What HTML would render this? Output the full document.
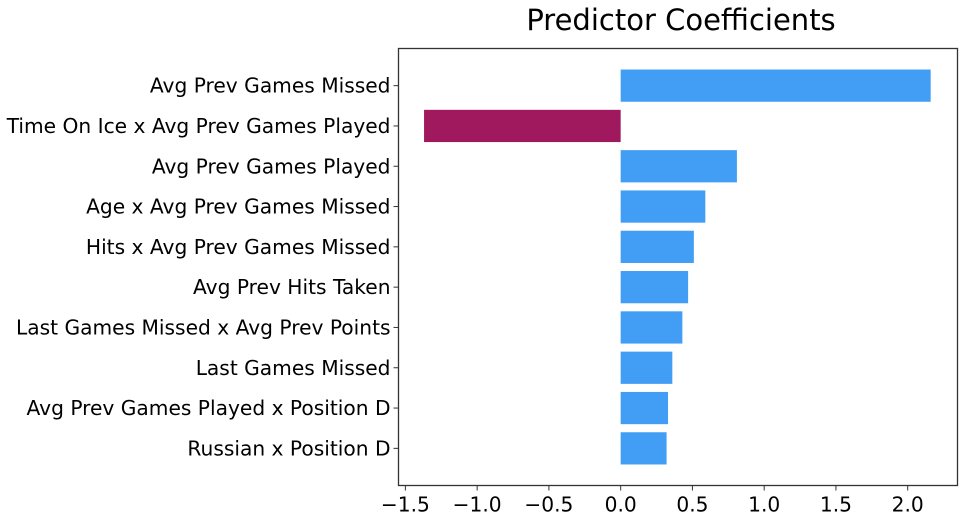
<!DOCTYPE html>
<html><head><meta charset="utf-8"><style>
body{margin:0;background:#fff;}
svg text{font-family:"DejaVu Sans","Liberation Sans",sans-serif;fill:#000;}
</style></head><body>
<svg id="chart" width="967" height="517" xmlns="http://www.w3.org/2000/svg">
<text x="681" y="30" font-size="29" text-anchor="middle">Predictor Coefficients</text>
<g id="bars"></g>
<g id="yticks"></g>
<g id="xticks"></g>
<rect x="398.5" y="48.5" width="559" height="437" fill="none" stroke="#333" stroke-width="1.3"/>
</svg>
<script>
const categories = ["Avg Prev Games Missed","Time On Ice x Avg Prev Games Played","Avg Prev Games Played","Age x Avg Prev Games Missed","Hits x Avg Prev Games Missed","Avg Prev Hits Taken","Last Games Missed x Avg Prev Points","Last Games Missed","Avg Prev Games Played x Position D","Russian x Position D"];
const values = [2.16, -1.37, 0.81, 0.59, 0.51, 0.47, 0.43, 0.36, 0.33, 0.32];
const xTickValues = [-1.5, -1.0, -0.5, 0.0, 0.5, 1.0, 1.5, 2.0];
const xTickLabels = ["\u22121.5","\u22121.0","\u22120.5","0.0","0.5","1.0","1.5","2.0"];

const NS = "http://www.w3.org/2000/svg";
const L = 398.5, R = 957.5, T = 48.5, B = 485.5;
const xMin = -1.548, xMax = 2.347;
const x = v => L + (v - xMin) / (xMax - xMin) * (R - L);
const step = (B - T - 34) / (categories.length - 1 + 1);
const yc = i => T + 17 + step * 0.5 + i * step;
const bh = step * 0.8;

const bars = document.getElementById('bars');
const yt = document.getElementById('yticks');
const xt = document.getElementById('xticks');

categories.forEach((c, i) => {
  const v = values[i];
  const r = document.createElementNS(NS, 'rect');
  r.setAttribute('x', Math.min(x(0), x(v)));
  r.setAttribute('width', Math.abs(x(v) - x(0)));
  r.setAttribute('y', yc(i) - bh / 2);
  r.setAttribute('height', bh);
  r.setAttribute('fill', v < 0 ? '#A0195E' : '#429EF5');
  
  
  bars.appendChild(r);

  const tk = document.createElementNS(NS, 'line');
  tk.setAttribute('x1', L - 5); tk.setAttribute('x2', L);
  tk.setAttribute('y1', yc(i)); tk.setAttribute('y2', yc(i));
  tk.setAttribute('stroke', '#333');
  
  
  yt.appendChild(tk);

  const t = document.createElementNS(NS, 'text');
  t.setAttribute('x', L - 8);
  t.setAttribute('y', yc(i) + 7);
  t.setAttribute('font-size', '20.2');
  t.setAttribute('text-anchor', 'end');
  t.textContent = c;
  
  
  yt.appendChild(t);
});

xTickValues.forEach((v, i) => {
  const tk = document.createElementNS(NS, 'line');
  tk.setAttribute('x1', x(v)); tk.setAttribute('x2', x(v));
  tk.setAttribute('y1', B); tk.setAttribute('y2', B + 5);
  tk.setAttribute('stroke', '#333');
  
  
  xt.appendChild(tk);

  const t = document.createElementNS(NS, 'text');
  t.setAttribute('x', x(v));
  t.setAttribute('y', B + 26);
  t.setAttribute('font-size', '20.2');
  t.setAttribute('text-anchor', 'middle');
  t.textContent = xTickLabels[i];
  
  
  xt.appendChild(t);
});
</script>
</body></html>
